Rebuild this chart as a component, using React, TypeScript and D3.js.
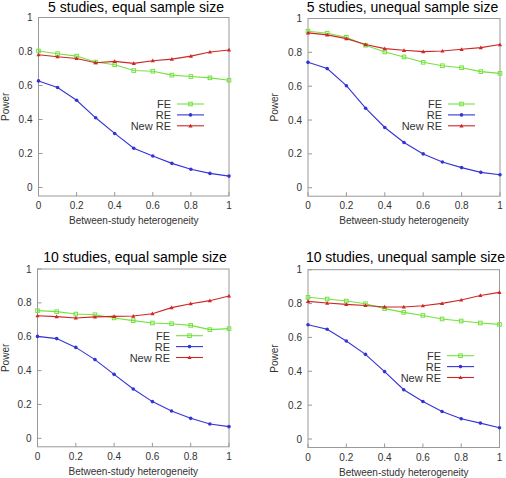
import React from "react";
import * as d3 from "d3";

const xValues = [0, 0.1, 0.2, 0.3, 0.4, 0.5, 0.6, 0.7, 0.8, 0.9, 1];
const tickValues = [0, 0.2, 0.4, 0.6, 0.8, 1];
const tickLabels = ["0", "0.2", "0.4", "0.6", "0.8", "1"];
const seriesNames = ["FE", "RE", "New RE"];
const titles = [
  "5 studies, equal sample size",
  "5 studies, unequal sample size",
  "10 studies, equal sample size",
  "10 studies, unequal sample size",
];
const xAxisLabel = "Between-study heterogeneity";
const yAxisLabel = "Power";

// 5 studies, equal
const fe5eq = [0.803, 0.787, 0.773, 0.738, 0.722, 0.688, 0.684, 0.661, 0.653, 0.645, 0.631];
const re5eq = [0.627, 0.588, 0.513, 0.41, 0.318, 0.231, 0.185, 0.142, 0.107, 0.083, 0.067];
const new5eq = [0.781, 0.769, 0.759, 0.734, 0.742, 0.73, 0.746, 0.755, 0.773, 0.797, 0.809];
// 5 studies, unequal
const fe5un = [0.925, 0.913, 0.889, 0.842, 0.802, 0.773, 0.741, 0.721, 0.709, 0.686, 0.676];
const re5un = [0.741, 0.704, 0.603, 0.47, 0.356, 0.267, 0.2, 0.152, 0.119, 0.091, 0.077];
const new5un = [0.915, 0.903, 0.881, 0.846, 0.822, 0.812, 0.804, 0.808, 0.818, 0.828, 0.846];
// 10 studies, equal
const fe10eq = [0.754, 0.748, 0.734, 0.73, 0.711, 0.695, 0.681, 0.677, 0.667, 0.642, 0.648];
const re10eq = [0.602, 0.589, 0.537, 0.465, 0.378, 0.291, 0.217, 0.161, 0.118, 0.085, 0.069];
const new10eq = [0.724, 0.719, 0.711, 0.717, 0.72, 0.722, 0.736, 0.772, 0.795, 0.813, 0.841];
// 10 studies, unequal
const fe10un = [0.837, 0.827, 0.815, 0.799, 0.77, 0.748, 0.73, 0.709, 0.697, 0.685, 0.677];
const re10un = [0.675, 0.648, 0.579, 0.5, 0.398, 0.291, 0.222, 0.163, 0.12, 0.094, 0.067];
const new10un = [0.813, 0.803, 0.795, 0.789, 0.78, 0.78, 0.787, 0.801, 0.821, 0.848, 0.866];

const panelData = [
  [fe5eq, re5eq, new5eq],
  [fe5un, re5un, new5un],
  [fe10eq, re10eq, new10eq],
  [fe10un, re10un, new10un],
];

const colors = ["#74e23e", "#3434d6", "#cf2626"];
const FONT = "'Liberation Sans', Arial, Helvetica, sans-serif";

const layouts = [
  { left: 38.5, right: 229, top: 17.5, bottom: 196, titleX: 136, titleY: 12, ylabX: 8.5, legTop: 104, legRight: 204 },
  { left: 308, right: 500, top: 18.5, bottom: 196.2, titleX: 402.5, titleY: 12, ylabX: 278, legTop: 104, legRight: 475 },
  { left: 37.5, right: 229, top: 269, bottom: 446.8, titleX: 135, titleY: 262, ylabX: 8.5, legTop: 335.7, legRight: 203 },
  { left: 308, right: 499.5, top: 269.7, bottom: 447.5, titleX: 405.5, titleY: 262, ylabX: 278, legTop: 355.7, legRight: 474 },
];

function Marker({ kind, x, y, color }: { kind: number; x: number; y: number; color: string }) {
  if (kind === 0) {
    return <rect x={x - 1.8} y={y - 1.8} width={3.6} height={3.6} fill="none" stroke={color} strokeWidth={1} />;
  }
  if (kind === 1) {
    return <circle cx={x} cy={y} r={1.8} fill={color} />;
  }
  const s = 2.1;
  return <path d={`M${x},${y - s} L${x + s},${y + s * 0.75} L${x - s},${y + s * 0.75} Z`} fill={color} />;
}

function Panel({ idx }: { idx: number }) {
  const L = layouts[idx];
  const x = d3.scaleLinear().domain([0, 1]).range([L.left, L.right]);
  const y = d3.scaleLinear().domain([-0.05, 1]).range([L.bottom, L.top]);
  const line = d3
    .line<number>()
    .x((_, i) => x(xValues[i]))
    .y((d) => y(d));
  const series = panelData[idx];
  const boxColor = "#999";
  const textColor = "#333";
  return (
    <g>
      <text x={L.titleX} y={L.titleY} textAnchor="middle" fontSize={14} fontFamily={FONT} fill="#000">
        {titles[idx]}
      </text>
      <rect x={L.left} y={L.top} width={L.right - L.left} height={L.bottom - L.top} fill="none" stroke={boxColor} strokeWidth={1} />
      {tickValues.map((t, i) => (
        <g key={"x" + i}>
          <line x1={x(t)} x2={x(t)} y1={L.bottom} y2={L.bottom - 4} stroke={boxColor} strokeWidth={1} />
          <text x={x(t)} y={L.bottom + 13} textAnchor="middle" fontSize={10} fontFamily={FONT} fill={textColor}>
            {tickLabels[i]}
          </text>
        </g>
      ))}
      {tickValues.map((t, i) => (
        <g key={"y" + i}>
          <line x1={L.left} x2={L.left + 4} y1={y(t)} y2={y(t)} stroke={boxColor} strokeWidth={1} />
          <text x={L.left - 6} y={y(t) + 3.5} textAnchor="end" fontSize={10} fontFamily={FONT} fill={textColor}>
            {tickLabels[i]}
          </text>
        </g>
      ))}
      <text x={(L.left + L.right) / 2} y={L.bottom + 28} textAnchor="middle" fontSize={10} fontFamily={FONT} fill={textColor}>
        {xAxisLabel}
      </text>
      <text
        transform={`translate(${L.ylabX},${(L.top + L.bottom) / 2}) rotate(-90)`}
        textAnchor="middle"
        fontSize={10}
        fontFamily={FONT}
        fill={textColor}
      >
        {yAxisLabel}
      </text>
      {series.map((vals, si) => (
        <g key={"s" + si}>
          <path d={line(vals) || ""} fill="none" stroke={colors[si]} strokeWidth={1.1} />
          {vals.map((v, i) => (
            <Marker key={i} kind={si} x={x(xValues[i])} y={y(v)} color={colors[si]} />
          ))}
        </g>
      ))}
      {seriesNames.map((name, si) => {
        const ly = L.legTop + si * 10.9;
        const x1 = L.legRight - 27;
        return (
          <g key={"l" + si}>
            <text x={x1 - 6} y={ly + 4} textAnchor="end" fontSize={11} fontFamily={FONT} fill={textColor}>
              {name}
            </text>
            <line x1={x1} x2={L.legRight} y1={ly} y2={ly} stroke={colors[si]} strokeWidth={1.1} />
            <Marker kind={si} x={(x1 + L.legRight) / 2} y={ly} color={colors[si]} />
          </g>
        );
      })}
    </g>
  );
}

export default function App() {
  return (
    <svg width={506} height={478} style={{ position: "absolute", left: 0, top: 0, background: "#fff" }}>
      <rect x={0} y={0} width={506} height={478} fill="#fff" />
      {[0, 1, 2, 3].map((i) => (
        <Panel key={i} idx={i} />
      ))}
    </svg>
  );
}
